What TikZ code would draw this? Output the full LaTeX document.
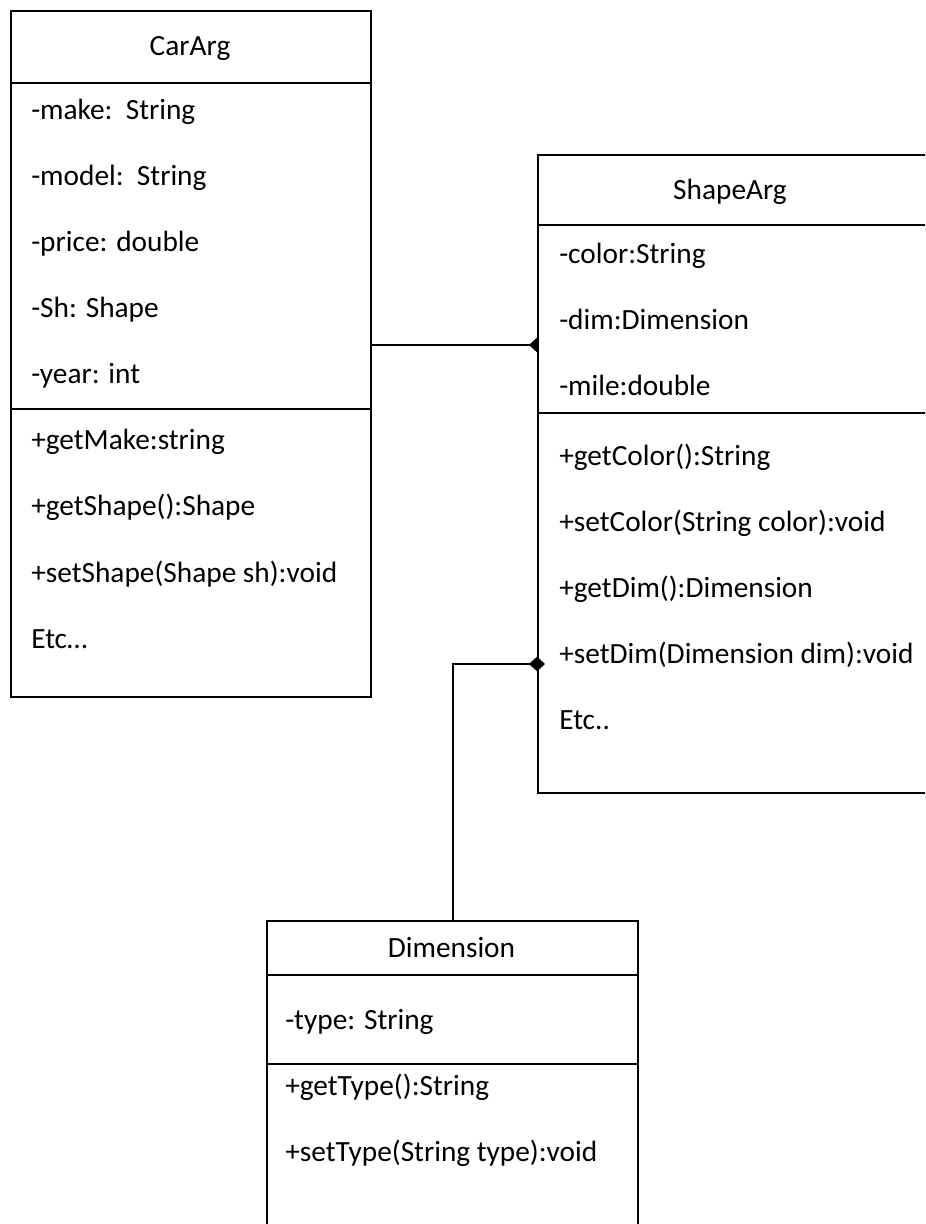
\documentclass[tikz,border=0pt]{standalone}
\usepackage{fontspec}
\setmainfont{Carlito}
\usetikzlibrary{arrows.meta}
\pgfdeclarelayer{background}
\pgfsetlayers{background,main}
\begin{document}
\begin{tikzpicture}[x=0.75pt,y=-0.75pt,
  classbox/.style={draw=black,fill=white,line width=1.5pt,inner sep=0pt,anchor=north west},
  rule/.style={line width=1.5pt},
  member/.style={anchor=west,inner sep=0pt,text height=0.7em,text depth=0.2em,
    font=\fontsize{22}{26}\selectfont},
  title/.style={anchor=center,inner sep=0pt,text height=0.7em,text depth=0.2em,
    font=\fontsize{22}{26}\selectfont},
  assoc/.style={line width=1.5pt,{Diamond[length=12pt,width=11pt]}-}]
\useasboundingbox (0,0) rectangle (925,1224);
\clip (0,0) rectangle (925,1224);

% CarArg class
\node[classbox,minimum width=270pt,minimum height=514.5pt] (car) at (10,10) {};
\draw[rule] (10,83) -- (370,83);
\draw[rule] (10,409) -- (370,409);
\node[title] (carT) at (190,52) {CarArg};
\node[member] (c1) at (31,116) {-make:\ \ String};
\node[member] (c2) at (31,182) {-model:\ \ String};
\node[member] (c3) at (31,248) {-price: double};
\node[member] (c4) at (31,314) {-Sh: Shape};
\node[member] (c5) at (31,380) {-year: int};
\node[member] (c6) at (31,446) {+getMake:string};
\node[member] (c7) at (31,512) {+getShape():Shape};
\node[member] (c8) at (31,579) {+setShape(Shape sh):void};
\node[member] (c9) at (31,645) {Etc\ldots};

% ShapeArg class (runs past the right edge)
\node[classbox,minimum width=315pt,minimum height=478.5pt] (shape) at (537,154) {};
\draw[rule] (537,225) -- (960,225);
\draw[rule] (537,413) -- (960,413);
\node[title] (shapeT) at (730,196) {ShapeArg};
\node[member] (s1) at (559,260) {-color:String};
\node[member] (s2) at (559,326) {-dim:Dimension};
\node[member] (s3) at (559,392) {-mile:double};
\node[member] (s4) at (559,462) {+getColor():String};
\node[member] (s5) at (559,528) {+setColor(String color):void};
\node[member] (s6) at (559,594) {+getDim():Dimension};
\node[member] (s7) at (559,660) {+setDim(Dimension dim):void};
\node[member] (s8) at (559,726) {Etc..};

% Dimension class (runs past the bottom edge)
\node[classbox,minimum width=278.25pt,minimum height=255pt] (dim) at (266,920) {};
\draw[rule] (266,975) -- (637,975);
\draw[rule] (266,1064) -- (637,1064);
\node[title] (dimT) at (451.5,954) {Dimension};
\node[member] (d1) at (285,1026) {-type: String};
\node[member] (d2) at (285,1092) {+getType():String};
\node[member] (d3) at (285,1158) {+setType(String type):void};

% Associations
\coordinate (j1) at (0,345);
\coordinate (j2) at (0,664);
\begin{pgfonlayer}{background}
\draw[assoc,shorten <=-6pt] (shape.west|-j1) -- (car.east|-j1);
\end{pgfonlayer}
\draw[assoc,shorten <=-6pt] (shape.west|-j2) -| (dim.north);
\end{tikzpicture}
\end{document}
